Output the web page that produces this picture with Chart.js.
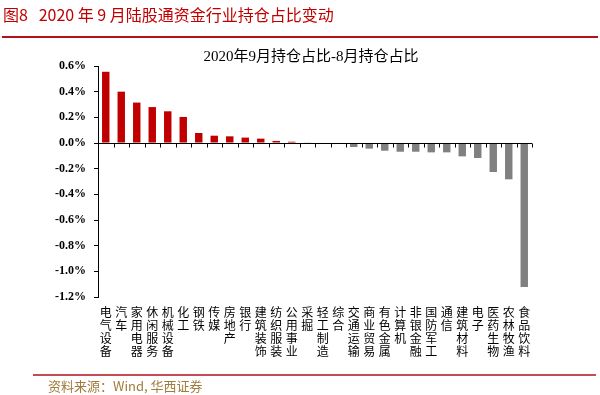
<!DOCTYPE html>
<html><head><meta charset="utf-8">
<script src="https://cdn.jsdelivr.net/npm/chart.js@4.4.0/dist/chart.umd.min.js"></script>
<style>html,body{margin:0;padding:0;background:#fff}#wrap{width:600px;height:395px;position:relative}</style>
</head><body><div id="wrap"><canvas id="c" width="600" height="395"></canvas></div>
<script>
const categories = ["电气设备","汽车","家用电器","休闲服务","机械设备","化工","钢铁","传媒","房地产","银行","建筑装饰","纺织服装","公用事业","采掘","轻工制造","综合","交通运输","商业贸易","有色金属","计算机","非银金融","国防军工","通信","建筑材料","电子","医药生物","农林牧渔","食品饮料"];
const values = [0.555,0.40,0.315,0.28,0.247,0.203,0.078,0.057,0.052,0.042,0.034,0.016,0.010,0.003,-0.003,-0.005,-0.031,-0.044,-0.060,-0.068,-0.068,-0.073,-0.073,-0.104,-0.117,-0.226,-0.283,-1.122];
const yTicks = [0.6,0.4,0.2,0.0,-0.2,-0.4,-0.6,-0.8,-1.0,-1.2];
const headerText = "图8   2020 年 9 月陆股通资金行业持仓占比变动";
const chartTitle = "2020年9月持仓占比-8月持仓占比";
const sourceText = "资料来源：Wind, 华西证券";

const decor = {
  id:'decor',
  beforeDraw(chart){
    const ctx = chart.ctx;
    ctx.save();
    ctx.fillStyle = '#fff'; ctx.fillRect(0,0,600,395);
    ctx.fillStyle = '#C00000';
    ctx.font = '16px "Noto Sans CJK SC", sans-serif';
    ctx.textBaseline = 'middle'; ctx.textAlign = 'left';
    ctx.fillText(headerText, 3, 15);
    ctx.strokeStyle = '#B0111B'; ctx.lineWidth = 2;
    ctx.beginPath(); ctx.moveTo(2,37); ctx.lineTo(598,37); ctx.stroke();
    ctx.lineWidth = 1.5;
    ctx.beginPath(); ctx.moveTo(33,375); ctx.lineTo(596,375); ctx.stroke();
    ctx.fillStyle = '#A07C3C';
    ctx.font = '13px "Noto Sans CJK SC", sans-serif';
    ctx.fillText(sourceText, 48, 386);
    ctx.fillStyle = '#000';
    ctx.font = '15px "Liberation Serif", "Noto Sans CJK SC", serif';
    ctx.textAlign = 'center';
    ctx.fillText(chartTitle, 311, 57);
    ctx.restore();
  },
  afterDatasetsDraw(chart){
    const ctx = chart.ctx, x = chart.scales.x, y = chart.scales.y;
    const y0 = Math.round(y.getPixelForValue(0)) + 0.5;
    ctx.save();
    ctx.strokeStyle = '#000'; ctx.lineWidth = 1;
    ctx.beginPath(); ctx.moveTo(chart.chartArea.left, y0); ctx.lineTo(chart.chartArea.right, y0); ctx.stroke();
    const n = categories.length;
    const w = (x.getPixelForValue(1) - x.getPixelForValue(0));
    ctx.beginPath();
    for (let i = 0; i <= n; i++) {
      const px = Math.round(x.getPixelForValue(0) - w/2 + i*w) + 0.5;
      ctx.moveTo(px, y0); ctx.lineTo(px, y0 + 4);
    }
    ctx.stroke();
    ctx.restore();
  }
};

new Chart(document.getElementById('c'), {
  type:'bar',
  data:{
    labels: categories.map(s => s.split('')),
    datasets:[{
      data: values,
      backgroundColor: values.map(v => v >= 0 ? '#C00000' : '#808080'),
      barPercentage: 0.48,
      categoryPercentage: 1.0
    }]
  },
  options:{
    responsive:false, animation:false,
    layout:{padding:{top:66, right:68, bottom:34, left:0}},
    plugins:{legend:{display:false}, tooltip:{enabled:false}, title:{display:false}},
    scales:{
      x:{
        grid:{display:false},
        border:{display:false},
        ticks:{
          autoSkip:false, maxRotation:0, minRotation:0, padding:1,
          color:'#000',
          font:{family:'"Noto Sans CJK SC", sans-serif', size:12, lineHeight:1.07}
        },
        afterFit(s){ s.height = 64; }
      },
      y:{
        min:-1.2, max:0.6,
        afterBuildTicks(s){ s.ticks = yTicks.map(v => ({value:v})); },
        grid:{drawOnChartArea:false, tickLength:4, color:'#000'},
        border:{display:true, color:'#000'},
        ticks:{
          padding:8, color:'#000',
          font:{family:'"Liberation Serif", serif', size:12, weight:'bold'},
          callback: v => v.toFixed(1) + '%'
        },
        afterFit(s){ s.width = 98; }
      }
    }
  },
  plugins:[decor]
});
</script></body></html>
